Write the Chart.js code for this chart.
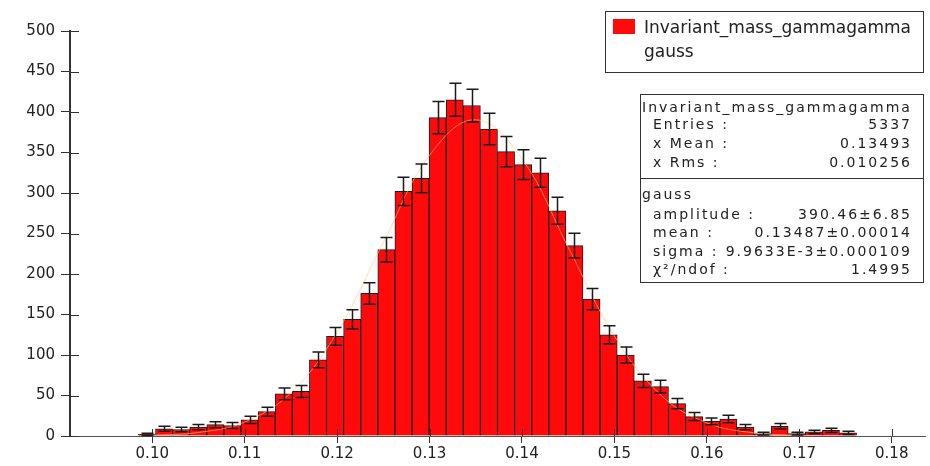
<!DOCTYPE html>
<html>
<head>
<meta charset="utf-8">
<title>Invariant mass gammagamma</title>
<script src="https://cdn.jsdelivr.net/npm/chart.js@4.4.1/dist/chart.umd.min.js"></script>
<style>
    html, body { margin: 0; padding: 0; background: #fff; }
    #wrap { width: 930px; height: 466px; }
</style>
</head>
<body>
<div id="wrap"><canvas id="mass-chart" width="930" height="466"></canvas></div>
<script>
// histogram: 50 equal bins across the x range
const xMin = 0.0911;
const xMax = 0.1836;
const binWidth = 0.00185;

const counts = [
    0, 0, 0, 0, 2, 9, 8, 11, 14, 13,
    20, 30, 52, 55, 94, 123, 144, 176, 230, 302,
    318, 393, 415, 408, 379, 351, 335, 325, 278, 235,
    169, 125, 100, 68, 61, 40, 24, 18, 21, 11,
    3, 12, 3, 5, 7, 4, 0, 0, 0, 0
];

// gauss fit curve, sampled points
const fitX = [0.100, 0.105, 0.110, 0.115, 0.120, 0.125, 0.130, 0.135, 0.140, 0.145, 0.150, 0.155, 0.160, 0.165, 0.170];
const fitY = [0.9, 4.4, 17.3, 53.4, 128.2, 239.0, 346.5, 390.4, 342.0, 232.9, 123.3, 50.7, 16.2, 4.0, 0.8];

const xTicks = [0.10, 0.11, 0.12, 0.13, 0.14, 0.15, 0.16, 0.17, 0.18];
const xTickLabels = ['0.10', '0.11', '0.12', '0.13', '0.14', '0.15', '0.16', '0.17', '0.18'];
const yTicks = [0, 50, 100, 150, 200, 250, 300, 350, 400, 450, 500];

const histName = 'Invariant_mass_gammagamma';
const fitName = 'gauss';

const histStats = [
    ['Entries :', '5337'],
    ['x Mean :', '0.13493'],
    ['x Rms :', '0.010256']
];
const fitStats = [
    ['amplitude :', '390.46±6.85'],
    ['mean :', '0.13487±0.00014'],
    ['sigma :', '9.9633E-3±0.000109'],
    ['χ²/ndof :', '1.4995']
];

const axisFont = { family: '"DejaVu Sans", sans-serif', size: 15 };
const inkColor = '#222';

// inner half of the axis tick marks (ticks cross the axis lines)
const crossTicks = {
    id: 'crossTicks',
    afterDatasetsDraw: (chart) => {
        const { ctx, chartArea, scales } = chart;
        ctx.save();
        ctx.strokeStyle = '#333';
        ctx.lineWidth = 1;
        ctx.beginPath();
        scales.y.ticks.forEach(t => {
            const py = Math.round(scales.y.getPixelForValue(t.value)) + 0.5;
            ctx.moveTo(chartArea.left, py);
            ctx.lineTo(chartArea.left + 9, py);
        });
        scales.x.ticks.forEach(t => {
            const px = Math.round(scales.x.getPixelForValue(t.value)) + 0.5;
            ctx.moveTo(px, chartArea.bottom);
            ctx.lineTo(px, chartArea.bottom - 7);
        });
        ctx.stroke();
        ctx.restore();
    }
};

// poisson error bars on each filled bin
const errorBars = {
    id: 'errorBars',
    afterDatasetsDraw: (chart) => {
        const { ctx, scales } = chart;
        const meta = chart.getDatasetMeta(1);
        ctx.save();
        ctx.strokeStyle = '#1a1a1a';
        ctx.lineWidth = 1.5;
        ctx.beginPath();
        meta.data.forEach((bar, i) => {
            const n = counts[i];
            if (!n) return;
            const err = Math.sqrt(n);
            const x = Math.round(bar.x) + 0.5;
            const yHi = scales.y.getPixelForValue(n + err);
            const yLo = scales.y.getPixelForValue(n - err);
            ctx.moveTo(x, yHi);
            ctx.lineTo(x, yLo);
            ctx.moveTo(x - 6, yHi);
            ctx.lineTo(x + 6, yHi);
            ctx.moveTo(x - 6, yLo);
            ctx.lineTo(x + 6, yLo);
        });
        ctx.stroke();
        ctx.restore();
    }
};

// legend box and stats panel, top right
const statsPanel = {
    id: 'statsPanel',
    afterDraw: (chart) => {
        const ctx = chart.ctx;
        ctx.save();

        // legend
        ctx.fillStyle = '#fff';
        ctx.fillRect(605, 11, 318, 61);
        ctx.strokeStyle = '#333';
        ctx.lineWidth = 1;
        ctx.strokeRect(605.5, 11.5, 318, 61);
        ctx.fillStyle = chart.data.datasets[1].backgroundColor;
        ctx.fillRect(613, 19, 22, 15);
        ctx.fillStyle = inkColor;
        ctx.font = '17px "DejaVu Sans", sans-serif';
        ctx.textBaseline = 'alphabetic';
        ctx.textAlign = 'left';
        ctx.fillText(histName, 644, 33);
        ctx.fillText(fitName, 644, 57);

        // stats panel
        ctx.fillStyle = '#fff';
        ctx.fillRect(640, 94, 283, 188);
        ctx.strokeStyle = '#333';
        ctx.strokeRect(640.5, 94.5, 283, 188);
        ctx.beginPath();
        ctx.moveTo(640, 178.5);
        ctx.lineTo(923, 178.5);
        ctx.stroke();

        ctx.font = '14px "DejaVu Sans", sans-serif';
        ctx.letterSpacing = '2px';
        ctx.fillStyle = inkColor;
        ctx.textBaseline = 'middle';
        ctx.textAlign = 'left';
        ctx.fillText(histName, 642, 108);
        histStats.forEach((row, i) => {
            const y = 125 + i * 19;
            ctx.textAlign = 'left';
            ctx.fillText(row[0], 653, y);
            ctx.textAlign = 'right';
            ctx.fillText(row[1], 912, y);
        });
        ctx.textAlign = 'left';
        ctx.fillText(fitName, 642, 195);
        fitStats.forEach((row, i) => {
            const y = 215 + i * 18.5;
            ctx.textAlign = 'left';
            ctx.fillText(row[0], 653, y);
            ctx.textAlign = 'right';
            ctx.fillText(row[1], 912, y);
        });
        ctx.restore();
    }
};

const bins = counts.map((c, i) => ({ x: xMin + (i + 0.5) * binWidth, y: c }));
const fitPoints = fitX.map((x, i) => ({ x: x, y: fitY[i] }));

const chart = new Chart(document.getElementById('mass-chart'), {
    type: 'bar',
    data: {
        datasets: [
            {
                type: 'line',
                label: fitName,
                data: fitPoints,
                borderColor: 'rgba(255, 200, 110, 0.6)',
                borderWidth: 1,
                pointRadius: 0,
                tension: 0.4,
                fill: false,
                order: 0
            },
            {
                label: histName,
                data: bins,
                backgroundColor: '#ff0a0a',
                borderColor: '#1c1c1c',
                borderWidth: 1,
                barPercentage: 1,
                categoryPercentage: 1,
                order: 1
            }
        ]
    },
    options: {
        responsive: false,
        animation: false,
        devicePixelRatio: 1,
        layout: { padding: { top: 31, right: 5, left: 0, bottom: 0 } },
        plugins: {
            legend: { display: false },
            tooltip: { enabled: false }
        },
        scales: {
            x: {
                type: 'linear',
                min: xMin,
                max: xMax,
                offset: false,
                afterBuildTicks: (scale) => { scale.ticks = xTicks.map(v => ({ value: v })); },
                afterFit: (scale) => { scale.height = 30; },
                ticks: {
                    font: axisFont,
                    color: inkColor,
                    padding: 2,
                    maxRotation: 0,
                    autoSkip: false,
                    callback: (v, i) => xTickLabels[i]
                },
                grid: { drawOnChartArea: false, offset: false, tickLength: 7, color: '#333' },
                border: { color: '#555', width: 1 }
            },
            y: {
                min: 0,
                max: 500,
                afterBuildTicks: (scale) => { scale.ticks = yTicks.map(v => ({ value: v })); },
                afterFit: (scale) => { scale.width = 70; },
                ticks: { font: axisFont, color: inkColor, padding: 6 },
                grid: { drawOnChartArea: false, tickLength: 9, color: '#333' },
                border: { color: '#333', width: 2 }
            }
        }
    },
    plugins: [crossTicks, errorBars, statsPanel]
});
</script>
</body>
</html>
